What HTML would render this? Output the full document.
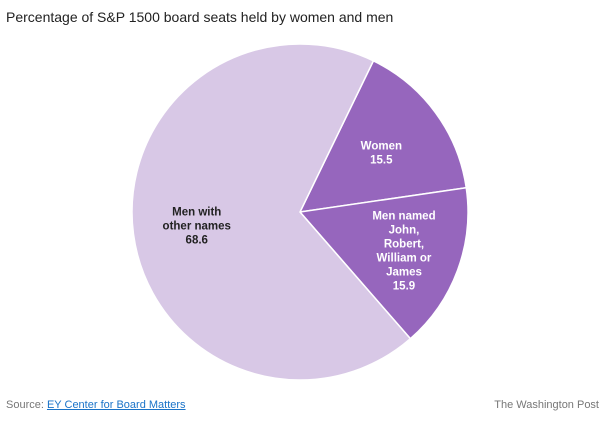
<!DOCTYPE html>
<html><head><meta charset="utf-8"><style>
body{margin:0;width:609px;height:424px;background:#fff;font-family:"Liberation Sans",sans-serif;overflow:hidden;position:relative}
#title{position:absolute;left:6px;top:9px;font-size:14px;color:#222}
#src{position:absolute;left:6px;top:399px;font-size:11px;color:#777}
#src a{color:#1a73c8;text-decoration:underline}
#wp{position:absolute;right:10px;top:399px;font-size:11px;color:#777}
svg{position:absolute;left:0;top:0}
</style></head><body>
<div id="title">Percentage of S&amp;P 1500 board seats held by women and men</div>
<svg id="chart" width="609" height="424"></svg>
<div id="src">Source: <a>EY Center for Board Matters</a></div>
<div id="wp">The Washington Post</div>
<script>
const labels=[["Women","15.5"],["Men named","John,","Robert,","William or","James","15.9"],["Men with","other names","68.6"]];
const values=[15.5,15.9,68.6];
const colors=["#9666bd","#9666bd","#d8c8e6"];
const svg=document.getElementById('chart');
const NS='http://www.w3.org/2000/svg';
const cx=300,cy=212,r=168,startDeg=25.9;
const total=values.reduce((a,b)=>a+b,0);
function pt(deg,rr){const a=deg*Math.PI/180;return [cx+rr*Math.sin(a),cy-rr*Math.cos(a)];}
let acc=startDeg;
values.forEach((v,i)=>{
  const sweep=v/total*360,a0=acc,a1=acc+sweep;acc=a1;
  const p0=pt(a0,r),p1=pt(a1,r);
  const path=document.createElementNS(NS,'path');
  path.setAttribute('d',`M${cx},${cy}L${p0[0]},${p0[1]}A${r},${r} 0 ${sweep>180?1:0} 1 ${p1[0]},${p1[1]}Z`);
  path.setAttribute('fill',colors[i]);path.setAttribute('stroke','#fff');path.setAttribute('stroke-width','1.5');
  
  
  svg.appendChild(path);
  const mid=(a0+a1)/2,lr=i==2?r*0.62:(i==1?r*0.66:r*0.6);
  const c=pt(mid,lr);
  const lines=labels[i],lh=14;
  const t=document.createElementNS(NS,'text');
  t.setAttribute('text-anchor','middle');t.setAttribute('font-size','11.5');t.setAttribute('font-weight','bold');
  t.setAttribute('fill',i==2?'#222':'#fff');
  
  
  lines.forEach((s,j)=>{const ts=document.createElementNS(NS,'tspan');ts.setAttribute('x',c[0]);ts.setAttribute('y',c[1]-(lines.length-1)*lh/2+j*lh+4);ts.textContent=s;t.appendChild(ts);});
  svg.appendChild(t);
});
</script>
</body></html>
